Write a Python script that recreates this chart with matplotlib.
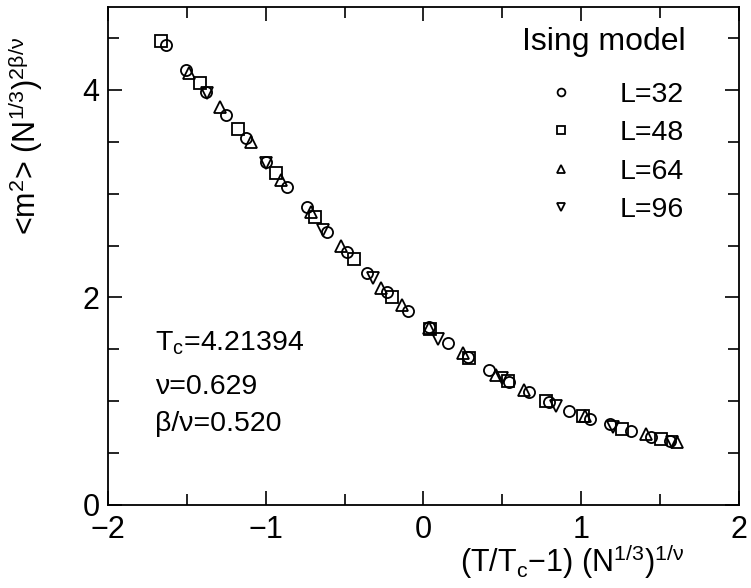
import matplotlib
matplotlib.use("Agg")
import matplotlib.pyplot as plt
from matplotlib.ticker import MultipleLocator

# data (x = (T/Tc-1) L^(1/nu), y = <m^2> L^(2beta/nu))
x32 = [-1.635, -1.506, -1.380, -1.253, -1.128, -0.996, -0.865, -0.739, -0.610, -0.483,
       -0.359, -0.232, -0.100, 0.032, 0.154, 0.284, 0.413, 0.544, 0.671, 0.797,
       0.924, 1.057, 1.184, 1.315, 1.441, 1.563]
y32 = [4.434, 4.193, 3.978, 3.759, 3.534, 3.310, 3.068, 2.869, 2.628, 2.441,
       2.233, 2.050, 1.870, 1.719, 1.559, 1.425, 1.301, 1.188, 1.086, 0.996,
       0.909, 0.832, 0.778, 0.716, 0.658, 0.620]

x48 = [-1.665, -1.418, -1.175, -0.932, -0.690, -0.443, -0.201, 0.042, 0.287, 0.534,
       0.777, 1.013, 1.261, 1.504]
y48 = [4.475, 4.070, 3.621, 3.197, 2.779, 2.371, 2.008, 1.693, 1.420, 1.198,
       1.002, 0.858, 0.730, 0.636]

x64 = [-1.485, -1.291, -1.095, -0.905, -0.711, -0.521, -0.268, -0.135, 0.035, 0.249,
       0.460, 0.639, 1.025, 1.409, 1.609]
y64 = [4.161, 3.833, 3.499, 3.133, 2.827, 2.496, 2.089, 1.928, 1.705, 1.462,
       1.253, 1.108, 0.858, 0.681, 0.610]

x96 = [-1.370, -0.996, -0.637, -0.321, 0.090, 0.498, 0.840, 1.204, 1.574]
y96 = [3.968, 3.300, 2.651, 2.191, 1.595, 1.221, 0.957, 0.755, 0.604]

sizes = ["L=32", "L=48", "L=64", "L=96"]
markers = ["o", "s", "^", "v"]
params = [r"$\mathregular{T_c}$=4.21394", "ν=0.629", "β/ν=0.520"]
param_y = [1.56, 1.14, 0.78]


def main():
    plt.rcParams["font.family"] = ["Liberation Sans", "DejaVu Sans"]
    plt.rcParams["mathtext.fontset"] = "custom"
    plt.rcParams["mathtext.rm"] = "Liberation Sans"
    plt.rcParams["mathtext.it"] = "Liberation Sans"

    fig = plt.figure(figsize=(7.51, 5.88), dpi=100)
    ax = fig.add_axes([0.1438, 0.1412, 0.8402, 0.847])

    series = [(x32, y32), (x48, y48), (x64, y64), (x96, y96)]
    for (xs, ys), mk, lab in zip(series, markers, sizes):
        ms = 8.5 if mk in ("^", "v") else 8
        ax.plot(xs, ys, ls="none", marker=mk, ms=ms, mfc="none", mec="black",
                mew=1.3, label=lab)

    ax.set_xlim(-2, 2)
    ax.set_ylim(0, 4.8)
    ax.xaxis.set_major_locator(MultipleLocator(1))
    ax.xaxis.set_minor_locator(MultipleLocator(0.5))
    ax.yaxis.set_major_locator(MultipleLocator(2))
    ax.yaxis.set_minor_locator(MultipleLocator(0.5))
    ax.tick_params(which="both", direction="in", top=True, right=True,
                   width=1.2, labelsize=22)
    ax.tick_params(axis="y", pad=6)
    ax.tick_params(axis="x", pad=7)
    ax.tick_params(which="major", length=10)
    ax.tick_params(which="minor", length=8)
    for sp in ax.spines.values():
        sp.set_linewidth(1.3)

    ax.set_xlabel(r"$\mathregular{(T/T_c{-}1)\ (N^{1/3})^{1/ν}}$", fontsize=22, loc="right")
    ax.xaxis.set_label_coords(0.913, -0.075)
    ax.set_ylabel(r"<m$\mathregular{^2}$> (N$\mathregular{^{1/3}}$)$\mathregular{^{2β/ν}}$",
                  fontsize=22, loc="top")
    ax.yaxis.set_label_coords(-0.1, 0.94)

    # parameter block
    for t, yy in zip(params, param_y):
        ax.text(-1.70, yy, t, fontsize=20.5, va="center", ha="left")

    ax.text(0.916, 0.93, "Ising model", fontsize=23, ha="right", va="center",
            transform=ax.transAxes)
    ax.legend(loc="upper right", bbox_to_anchor=(0.913, 0.849), frameon=False,
              fontsize=20.5, markerscale=0.7, handlelength=1.0, handletextpad=1.55,
              labelspacing=0.43, borderpad=0, borderaxespad=0)

    fig.savefig("out.png", dpi=100)
    plt.close(fig)


if __name__ == "__main__":
    main()
